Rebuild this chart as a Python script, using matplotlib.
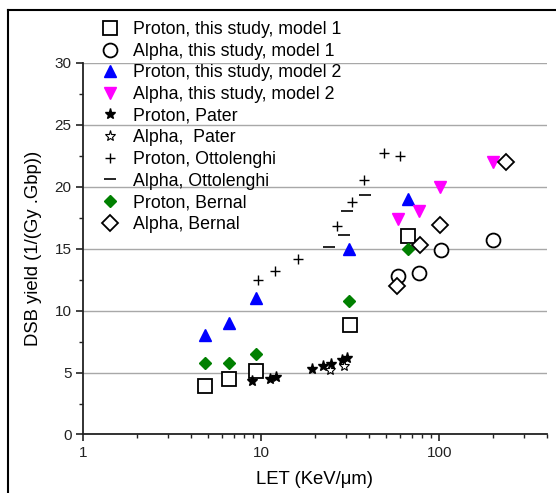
import numpy as np
import matplotlib
matplotlib.use('Agg')
import matplotlib.pyplot as plt
from matplotlib import ticker
from matplotlib.lines import Line2D

plt.rcParams['font.family'] = ['Liberation Sans', 'DejaVu Sans']

# LET (keV/um) and DSB yield values
p1_let = [4.8, 6.57, 9.3, 31.4, 66.5]
p1_dsb = [3.9, 4.5, 5.1, 8.8, 16.0]

a1_let = [58.7, 76.7, 102, 200]
a1_dsb = [12.8, 13.0, 14.9, 15.7]

p2_let = [4.8, 6.57, 9.3, 30.9, 67]
p2_dsb = [8.0, 9.0, 11.0, 15.0, 19.0]

a2_let = [58.7, 76.7, 101, 200]
a2_dsb = [17.4, 18.0, 20.0, 22.0]

pater_p_let = [8.8, 11.2, 12.1, 19.2, 22.2, 24.5, 28.4, 30.3]
pater_p_dsb = [4.3, 4.5, 4.6, 5.3, 5.55, 5.7, 6.05, 6.2]

pater_a_let = [24.3, 29.3]
pater_a_dsb = [5.2, 5.5]

otto_p_let = [9.6, 11.9, 16.1, 26.7, 32.4, 37.7, 49, 60]
otto_p_dsb = [12.5, 13.2, 14.2, 16.8, 18.8, 20.5, 22.7, 22.5]

otto_a_let = [23.9, 29.1, 30.3, 38.1]
otto_a_dsb = [15.1, 16.1, 18.0, 19.3]

bernal_p_let = [4.8, 6.57, 9.3, 31.0, 67]
bernal_p_dsb = [5.8, 5.8, 6.5, 10.8, 15.0]

bernal_a_let = [57.7, 77.7, 101, 236]
bernal_a_dsb = [12.0, 15.3, 16.9, 22.0]

fig = plt.figure(figsize=(5.56, 4.93), dpi=100)
ax = fig.add_axes([0.150, 0.1187, 0.833, 0.754])

ax.grid(True, axis='y', color='#a8a8a8', linewidth=1.0)
ax.set_axisbelow(True)

ax.plot(p1_let, p1_dsb, 's', mfc='white', mec='black', mew=1.3, ms=9.5,
        ls='none', label='Proton, this study, model 1')
ax.plot(a1_let, a1_dsb, 'o', mfc='white', mec='black', mew=1.3, ms=10,
        ls='none', label='Alpha, this study, model 1')
ax.plot(p2_let, p2_dsb, '^', color='#0000ff', ms=8, ls='none',
        label='Proton, this study, model 2')
ax.plot(a2_let, a2_dsb, 'v', color='#ff00ff', ms=8, ls='none',
        label='Alpha, this study, model 2')
ax.plot(pater_p_let, pater_p_dsb, '*', color='black', ms=8, ls='none',
        label='Proton, Pater')
ax.plot(pater_a_let, pater_a_dsb, '*', mfc='white', mec='black', mew=0.8,
        ms=8, ls='none', label='Alpha,  Pater')
ax.plot(otto_p_let, otto_p_dsb, '+', color='black', ms=7, mew=1.0,
        ls='none', label='Proton, Ottolenghi')
ax.plot(otto_a_let, otto_a_dsb, '_', color='black', ms=8, mew=1.2,
        ls='none', label='Alpha, Ottolenghi')
ax.plot(bernal_p_let, bernal_p_dsb, 'D', color='#008000', ms=6.5,
        ls='none', label='Proton, Bernal')
ax.plot(bernal_a_let, bernal_a_dsb, 'D', mfc='white', mec='black', mew=1.3,
        ms=8, ls='none', label='Alpha, Bernal')

ax.set_xscale('log')
ax.set_xlim(1, 400)
ax.set_ylim(0, 30)
ax.yaxis.set_major_locator(ticker.MultipleLocator(5))
ax.yaxis.set_minor_locator(ticker.MultipleLocator(2.5))
ax.xaxis.set_major_formatter(ticker.FormatStrFormatter('%g'))
ax.xaxis.set_minor_formatter(ticker.NullFormatter())

for s in ['top', 'right']:
    ax.spines[s].set_visible(False)
for s in ['left', 'bottom']:
    ax.spines[s].set_linewidth(1.3)
    ax.spines[s].set_color('#222222')

ax.tick_params(which='major', direction='out', length=5, width=1.2,
               labelsize=11, colors='#222222')
ax.tick_params(which='minor', direction='out', length=3, width=1.0,
               colors='#222222')

ax.set_xlabel('LET (KeV/μm)', fontsize=13.3, labelpad=8)
ax.set_ylabel('DSB yield (1/(Gy .Gbp))', fontsize=13.3, labelpad=9)

fig.legend(loc='upper left', bbox_to_anchor=(0.174, 0.957),
           bbox_transform=fig.transFigure, frameon=False,
           fontsize=12.8, handletextpad=0.55, labelspacing=0.26,
           borderaxespad=0, borderpad=0, handlelength=1.5)

# border of the figure panel, cut off at right and bottom
fig.add_artist(Line2D([0.0144, 0.0144], [0, 0.9797], color='black', lw=1.5,
                      transform=fig.transFigure))
fig.add_artist(Line2D([0.0144, 1.0], [0.9797, 0.9797], color='black', lw=1.5,
                      transform=fig.transFigure))

fig.savefig('out.png', dpi=100)
